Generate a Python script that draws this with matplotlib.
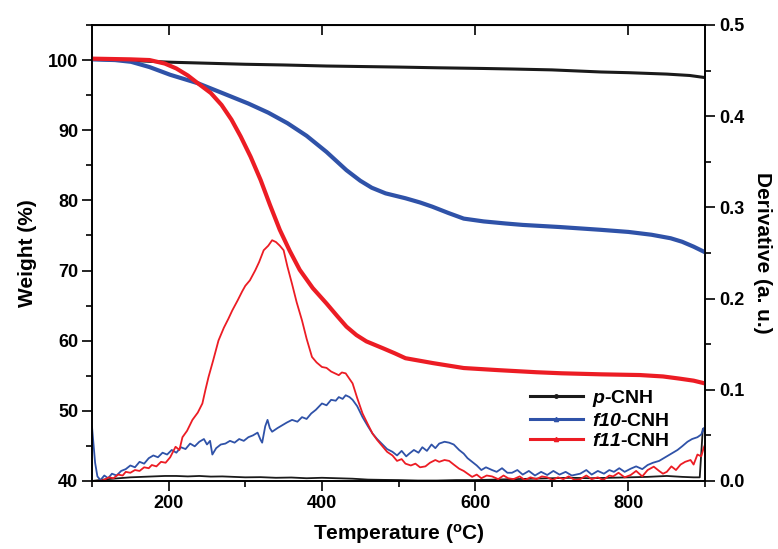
import matplotlib
matplotlib.use("Agg")
import matplotlib.pyplot as plt
from matplotlib.lines import Line2D
from matplotlib.ticker import MultipleLocator

plt.rcParams['font.family'] = ['Liberation Sans', 'DejaVu Sans']
plt.rcParams['font.weight'] = 'bold'
plt.rcParams['axes.labelweight'] = 'bold'
plt.rcParams['mathtext.fontset'] = 'custom'
plt.rcParams['mathtext.rm'] = 'Liberation Sans:bold'
plt.rcParams['mathtext.bf'] = 'Liberation Sans:bold'
plt.rcParams['mathtext.it'] = 'Liberation Sans:italic:bold'
plt.rcParams['mathtext.bfit'] = 'Liberation Sans:italic:bold'

# TGA weight curves (%)
t_p_w = [100, 150, 200, 250, 300, 350, 406, 450, 500, 550, 611, 650, 700,
         764, 800, 850, 880, 900]
w_p = [100.1, 99.95, 99.7, 99.55, 99.4, 99.3, 99.15, 99.08, 99.0, 98.9, 98.8,
       98.72, 98.6, 98.3, 98.2, 98.0, 97.8, 97.5]

t_f10_w = [100, 130, 151, 175, 202, 238, 270, 304, 330, 355, 380, 406, 432,
           450, 465, 483, 509, 528, 544, 565, 585, 611, 640, 662, 710, 764,
           800, 830, 855, 870, 885, 900]
w_f10 = [100.1, 100.0, 99.75, 99.0, 97.9, 96.7, 95.3, 93.8, 92.5, 91.0, 89.2,
         86.9, 84.3, 82.8, 81.8, 81.0, 80.3, 79.7, 79.1, 78.2, 77.4, 77.0,
         76.7, 76.5, 76.2, 75.8, 75.5, 75.1, 74.6, 74.1, 73.4, 72.6]

t_f11_w = [100, 150, 175, 195, 210, 225, 238, 255, 269, 282, 294, 307, 320,
           332, 345, 358, 371, 388, 406, 420, 432, 445, 458, 480, 495, 509,
           545, 585, 630, 680, 713, 765, 815, 845, 866, 885, 900]
w_f11 = [100.2, 100.1, 100.0, 99.5, 98.8, 97.8, 96.7, 95.3, 93.6, 91.5, 89.1,
         86.2, 82.9, 79.4, 75.8, 72.8, 70.1, 67.5, 65.3, 63.5, 62.0, 60.8,
         59.9, 58.9, 58.2, 57.5, 56.8, 56.1, 55.8, 55.5, 55.35, 55.2, 55.1,
         54.9, 54.6, 54.3, 53.9]

# derivative curves (a. u.)
t_p_d = [100, 110, 120, 135, 150, 165, 180, 195, 210, 225, 240, 255, 270,
         285, 300, 320, 340, 360, 380, 400, 420, 440, 460, 480, 500, 525,
         550, 575, 600, 625, 650, 675, 700, 725, 750, 775, 800, 825, 850,
         870, 885, 893, 897, 900]
d_p = [0.0, 0.001, 0.002, 0.003, 0.004, 0.0045, 0.005, 0.0055, 0.0055, 0.005,
       0.0055, 0.0048, 0.005, 0.0045, 0.004, 0.0042, 0.0035, 0.0038, 0.003,
       0.0035, 0.003, 0.0025, 0.0015, 0.0012, 0.001, 0.0005, 0.0005, 0.001,
       0.001, 0.0015, 0.002, 0.0025, 0.003, 0.0035, 0.003, 0.0035, 0.004,
       0.0045, 0.0055, 0.0045, 0.004, 0.004, 0.057, 0.057]

t_f10_d = [100, 102, 104, 107, 111, 116, 121, 126, 132, 138, 144, 150, 156,
           162, 168, 174, 180, 186, 192, 198, 204, 210, 216, 222, 228, 234,
           240, 246, 250, 254, 257, 262, 268, 274, 280, 286, 292, 298, 304,
           310, 316, 320, 322, 326, 329, 332, 335, 342, 348, 354, 361, 368,
           374, 380, 386, 392, 400, 406, 412, 418, 422, 427, 431, 436, 440,
           446, 453, 460, 466, 472, 479, 485, 492, 498, 504, 510, 514, 520,
           526, 531, 537, 543, 548, 553, 560, 566, 572, 579, 585, 590, 596,
           602, 608, 614, 622, 628, 635, 642, 648, 655, 662, 670, 678, 686,
           694, 702, 710, 718, 726, 737, 745, 752, 760, 768, 775, 781, 788,
           795, 803, 810, 818, 825, 832, 840, 846, 852, 858, 864, 870, 877,
           883, 890, 895, 898, 900]
d_f10 = [0.059, 0.04, 0.02, 0.005, 0.001, 0.006, 0.003, 0.008, 0.006, 0.011,
         0.013, 0.017, 0.015, 0.021, 0.019, 0.025, 0.028, 0.026, 0.031, 0.029,
         0.034, 0.031, 0.037, 0.035, 0.041, 0.038, 0.043, 0.046, 0.040, 0.044,
         0.029, 0.036, 0.040, 0.041, 0.044, 0.042, 0.046, 0.044, 0.048, 0.050,
         0.053, 0.045, 0.042, 0.060, 0.067, 0.058, 0.054, 0.058, 0.061, 0.064,
         0.067, 0.065, 0.070, 0.068, 0.074, 0.078, 0.085, 0.083, 0.089, 0.088,
         0.092, 0.090, 0.094, 0.092, 0.089, 0.082, 0.070, 0.060, 0.052, 0.046,
         0.040, 0.035, 0.032, 0.028, 0.033, 0.027, 0.030, 0.034, 0.031, 0.037,
         0.033, 0.040, 0.036, 0.041, 0.043, 0.042, 0.040, 0.034, 0.030, 0.025,
         0.021, 0.017, 0.012, 0.015, 0.012, 0.010, 0.014, 0.009, 0.009, 0.012,
         0.007, 0.011, 0.006, 0.010, 0.0066, 0.011, 0.007, 0.010, 0.006, 0.008,
         0.012, 0.007, 0.011, 0.008, 0.012, 0.010, 0.014, 0.010, 0.0135, 0.016,
         0.013, 0.0175, 0.020, 0.022, 0.025, 0.028, 0.031, 0.034, 0.038, 0.043,
         0.046, 0.048, 0.051, 0.058, 0.052]

t_f11_d = [110, 115, 122, 128, 134, 140, 144, 150, 156, 162, 168, 174, 178,
           184, 190, 196, 202, 209, 214, 218, 224, 231, 238, 244, 248, 252,
           258, 265, 272, 278, 283, 290, 296, 300, 306, 313, 318, 324, 330,
           335, 340, 345, 350, 355, 361, 367, 374, 380, 387, 393, 400, 406,
           412, 417, 422, 426, 431, 436, 440, 446, 453, 460, 466, 472, 479,
           485, 492, 498, 504, 509, 516, 522, 528, 535, 541, 548, 553, 560,
           566, 572, 579, 585, 590, 596, 602, 608, 615, 622, 630, 637, 643,
           650, 658, 665, 672, 680, 687, 694, 701, 708, 715, 722, 730, 737,
           745, 752, 760, 767, 775, 780, 787, 795, 803, 810, 818, 825, 833,
           840, 845, 850, 856, 862, 868, 874, 881, 885, 890, 895, 898, 900]
d_f11 = [0.0, 0.001, 0.004, 0.003, 0.007, 0.006, 0.010, 0.009, 0.012, 0.011,
         0.015, 0.014, 0.0175, 0.016, 0.021, 0.020, 0.026, 0.0375, 0.034,
         0.048, 0.055, 0.067, 0.075, 0.085, 0.100, 0.114, 0.132, 0.154, 0.168,
         0.178, 0.187, 0.198, 0.208, 0.214, 0.220, 0.231, 0.240, 0.253, 0.258,
         0.264, 0.262, 0.258, 0.253, 0.235, 0.216, 0.196, 0.176, 0.156, 0.136,
         0.130, 0.125, 0.124, 0.120, 0.118, 0.116, 0.119, 0.118, 0.112, 0.107,
         0.091, 0.074, 0.062, 0.052, 0.045, 0.038, 0.032, 0.028, 0.022, 0.024,
         0.019, 0.017, 0.019, 0.015, 0.016, 0.020, 0.023, 0.021, 0.023, 0.022,
         0.018, 0.0135, 0.011, 0.008, 0.0045, 0.007, 0.003, 0.006, 0.005,
         0.002, 0.006, 0.003, 0.002, 0.005, 0.001, 0.004, 0.002, 0.005, 0.004,
         0.001, 0.004, 0.002, 0.005, 0.001, 0.002, 0.006, 0.002, 0.004, 0.001,
         0.006, 0.005, 0.009, 0.004, 0.0066, 0.011, 0.005, 0.012, 0.0157,
         0.011, 0.008, 0.010, 0.016, 0.012, 0.018, 0.021, 0.023, 0.018, 0.029,
         0.027, 0.036, 0.040]

labels = [r'$\mathbfit{p}$-CNH', r'$\mathbfit{f10}$-CNH', r'$\mathbfit{f11}$-CNH']
BLACK = '#1a1a1a'
BLUE = '#2f52a8'
RED = '#ec1c24'

fig = plt.figure(figsize=(7.78, 5.49), dpi=100)
ax = fig.add_axes([0.1183, 0.1239, 0.788, 0.8306])
ax2 = ax.twinx()

ax2.plot(t_p_d, d_p, color=BLACK, lw=1.3)
ax2.plot(t_f10_d, d_f10, color=BLUE, lw=1.3)
ax2.plot(t_f11_d, d_f11, color=RED, lw=1.3)

ax.plot(t_p_w, w_p, color=BLACK, lw=2.2)
ax.plot(t_f10_w, w_f10, color=BLUE, lw=3.0)
ax.plot(t_f11_w, w_f11, color=RED, lw=3.0)
ax.set_zorder(ax2.get_zorder() + 1)
ax.patch.set_visible(False)

ax.set_xlim(100, 900)
ax.set_ylim(40, 105)
ax2.set_ylim(0, 0.5)

ax.xaxis.set_major_locator(MultipleLocator(200))
ax.xaxis.set_minor_locator(MultipleLocator(100))
ax.yaxis.set_major_locator(MultipleLocator(10))
ax.yaxis.set_minor_locator(MultipleLocator(5))
ax2.yaxis.set_major_locator(MultipleLocator(0.1))
ax2.yaxis.set_minor_locator(MultipleLocator(0.05))
ax2.yaxis.set_major_formatter(plt.FuncFormatter(lambda v, p: f'{v:.1f}'))

for a in (ax, ax2):
    a.tick_params(which='major', direction='out', length=7, width=1.2,
                  labelsize=13, pad=3)
    a.tick_params(which='minor', direction='out', length=4, width=1.2)
    for s in a.spines.values():
        s.set_linewidth(1.2)

top = ax.secondary_xaxis('top')
top.set_xticks([200, 400, 600, 800])
top.tick_params(direction='in', length=7, width=1.2, labeltop=False)

ax.set_xlabel('Temperature ($^\\mathbf{o}$C)', fontsize=15, labelpad=7)
ax.set_ylabel('Weight (%)', fontsize=15, labelpad=8)
ax2.set_ylabel('Derivative (a. u.)', fontsize=15, rotation=270, labelpad=20)

handles = [
    Line2D([], [], color=BLACK, lw=2.2, marker='.', markersize=5),
    Line2D([], [], color=BLUE, lw=2.2, marker='^', markersize=3),
    Line2D([], [], color=RED, lw=2.2, marker='^', markersize=3),
]
ax.legend(handles, labels, loc='upper left',
          bbox_to_anchor=(530 / 778, 1 - 388 / 549),
          bbox_transform=fig.transFigure, frameon=False, fontsize=14,
          handlelength=2.7, handletextpad=0.5, labelspacing=0.15,
          borderpad=0, borderaxespad=0)

fig.savefig('out.png', dpi=100)
